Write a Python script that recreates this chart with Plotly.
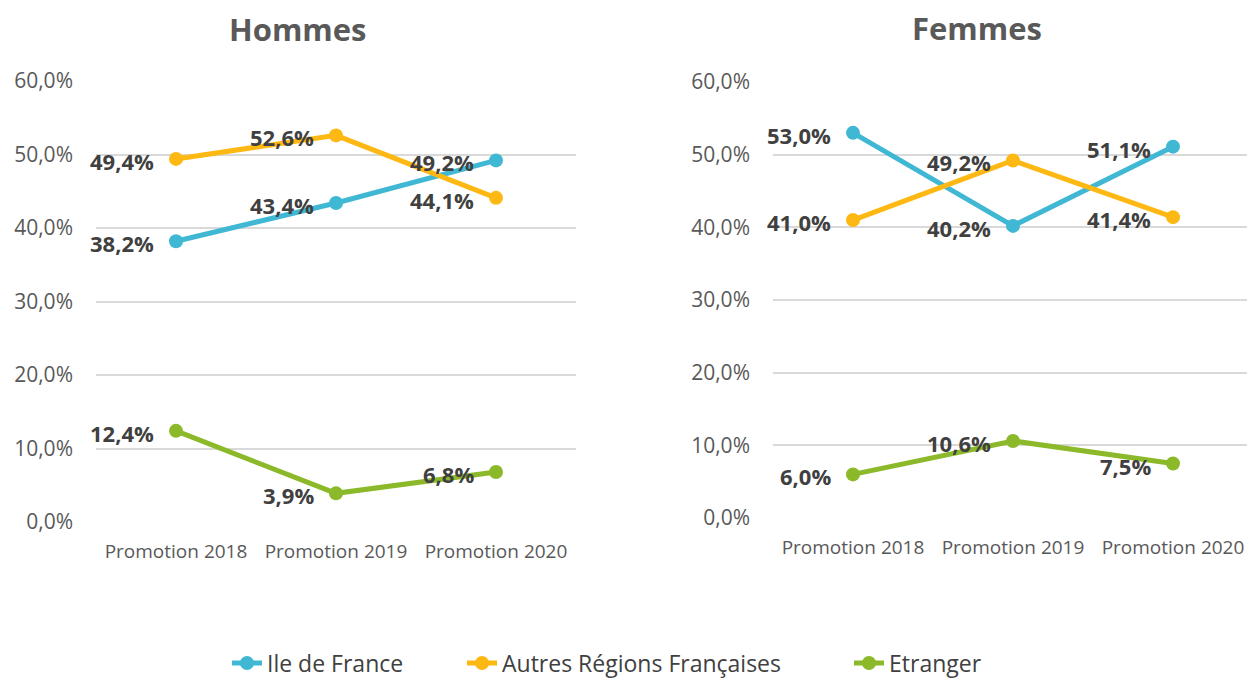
import plotly.graph_objects as go

categories = ["Promotion 2018", "Promotion 2019", "Promotion 2020"]
series_names = ["Ile de France", "Autres Régions Françaises", "Etranger"]
colors = ["#40B8D4", "#FDB813", "#8CB92A"]

hommes_idf = [38.2, 43.4, 49.2]
hommes_autres = [49.4, 52.6, 44.1]
hommes_etranger = [12.4, 3.9, 6.8]

femmes_idf = [53.0, 40.2, 51.1]
femmes_autres = [41.0, 49.2, 41.4]
femmes_etranger = [6.0, 10.6, 7.5]

tick_vals = [0, 10, 20, 30, 40, 50, 60]
tick_text = ["0,0%", "10,0%", "20,0%", "30,0%", "40,0%", "50,0%", "60,0%"]

FONT = "Open Sans"
OFF = 8  # page body margin
W, H = 1255 - OFF, 680 - OFF

def px_x(v):
    return (v - OFF) / W

def px_y(v):
    return 1 - (v - OFF) / H

def fmt(v):
    return f"{v:.1f}".replace(".", ",") + "%"

fig = go.Figure()
annotations = []
legend_ids = ["legend", "legend2", "legend3"]

panels = [
    ("x", "y", [hommes_idf, hommes_autres, hommes_etranger], True),
    ("x2", "y2", [femmes_idf, femmes_autres, femmes_etranger], False),
]
for xa, ya, data, show in panels:
    for name, vals, col, lg in zip(series_names, data, colors, legend_ids):
        fig.add_trace(go.Scatter(
            x=categories, y=vals, name=name, xaxis=xa, yaxis=ya,
            mode="lines+markers",
            line=dict(color=col, width=5),
            marker=dict(color=col, size=14),
            showlegend=show, cliponaxis=False, legend=lg,
        ))
        for c, v in zip(categories, vals):
            annotations.append(dict(
                x=c, y=v, xref=xa, yref=ya, text=f"<b>{fmt(v)}</b>",
                showarrow=False, xanchor="right", yanchor="middle",
                xshift=-20, yshift=-2,
                font=dict(family=FONT, size=22, color="#404040"),
            ))

axis_common = dict(
    tickvals=tick_vals, ticktext=tick_text, range=[0, 60],
    showgrid=True, gridcolor="#D9D9D9", gridwidth=2,
    zeroline=False, showline=False,
    tickfont=dict(family=FONT, size=21, color="#595959"),
    ticks="", ticklabelstandoff=22,
)
xaxis_common = dict(
    type="category", range=[-0.5, 2.5], showgrid=False, zeroline=False,
    showline=False, ticks="", ticklabelstandoff=16,
    tickfont=dict(family=FONT, size=19, color="#595959"),
)

annotations += [
    dict(text="<b>Hommes</b>", x=px_x(298), y=px_y(29), xref="paper", yref="paper",
         showarrow=False, font=dict(family=FONT, size=31, color="#595959"),
         xanchor="center", yanchor="middle", borderpad=0),
    dict(text="<b>Femmes</b>", x=px_x(977), y=px_y(28), xref="paper", yref="paper",
         showarrow=False, font=dict(family=FONT, size=31, color="#595959"),
         xanchor="center", yanchor="middle", borderpad=0),
]

legend_style = dict(orientation="h", xanchor="left", yanchor="middle",
                    y=px_y(663), font=dict(family=FONT, size=23, color="#404040"),
                    bgcolor="rgba(0,0,0,0)")

fig.update_layout(
    width=W, height=H,
    margin=dict(l=0, r=0, t=0, b=0, autoexpand=False),
    paper_bgcolor="white", plot_bgcolor="white",
    xaxis=dict(domain=[px_x(96), px_x(576)], anchor="y", **xaxis_common),
    yaxis=dict(domain=[px_y(522), px_y(81)], anchor="x", **axis_common),
    xaxis2=dict(domain=[px_x(773), px_x(1253)], anchor="y2", **xaxis_common),
    yaxis2=dict(domain=[px_y(518), px_y(82)], anchor="x2", **axis_common),
    legend=dict(x=px_x(227), **legend_style),
    legend2=dict(x=px_x(462), **legend_style),
    legend3=dict(x=px_x(849), **legend_style),
    annotations=annotations,
)

fig.write_html("out.html")
